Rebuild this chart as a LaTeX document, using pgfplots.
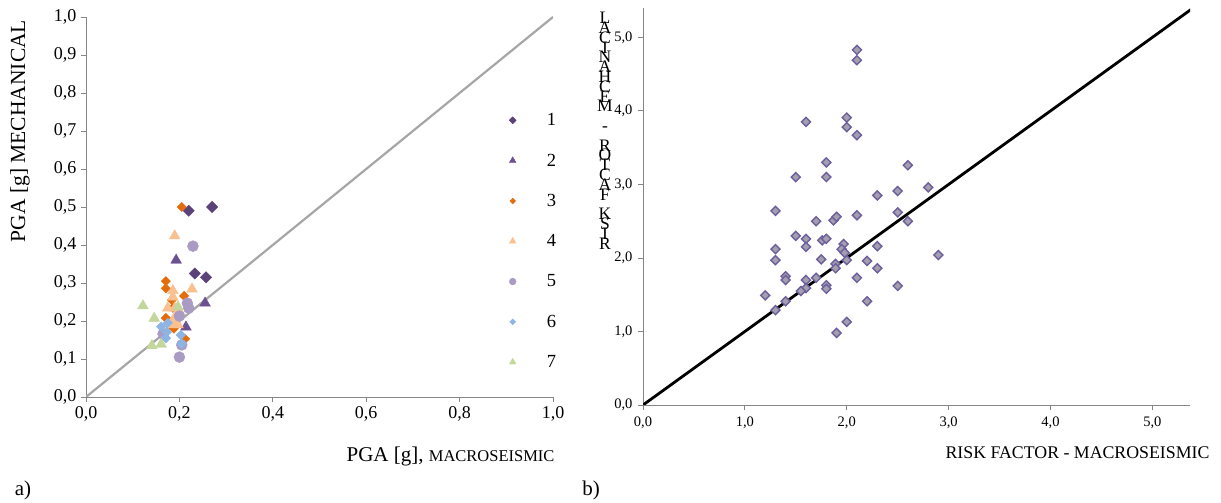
\documentclass[border=0pt]{standalone}
\usepackage{fontspec}
\setmainfont{Liberation Serif}
\usepackage{pgfplots}
\pgfplotsset{compat=1.18}
\newcommand\tightlines{\fontsize{17.5}{9.8}\selectfont\lineskiplimit=-100pt\relax\lineskip=0pt\relax}
\definecolor{sOne}{HTML}{5B4278}
\definecolor{sTwo}{HTML}{6B5190}
\definecolor{sThree}{HTML}{E46C0A}
\definecolor{sFour}{HTML}{FAC090}
\definecolor{sFive}{HTML}{A99BC4}
\definecolor{sSix}{HTML}{8EB4E3}
\definecolor{sSeven}{HTML}{C3D69B}
\definecolor{axgray}{HTML}{868686}
\definecolor{diagray}{HTML}{A6A6A6}
\definecolor{rEdge}{HTML}{6E5E9E}
\definecolor{rFill}{HTML}{A29FAE}
\pgfplotsset{
  commonax/.style={
    scale only axis,
    axis x line=bottom, axis y line=left,
    axis line style={-, draw=axgray, line width=0.9pt},
    tick style={draw=axgray, line width=0.9pt},
    tick align=outside,
    major tick length=5pt,
    /pgf/number format/.cd, use comma, fixed, fixed zerofill, precision=1, assume math mode=true,
    /pgfplots/.cd,
  },
}
\begin{document}
\begin{tikzpicture}[x=1pt,y=1pt]
\useasboundingbox (0,0) rectangle (1221,503);
% ---------------- left panel ----------------
\begin{axis}[commonax,
  at={(86pt,106pt)}, anchor=south west,
  width=467pt, height=380pt,
  xmin=0, xmax=1, ymin=0, ymax=1,
  xtick={0,0.2,0.4,0.6,0.8,1.0},
  ytick={0,0.1,0.2,0.3,0.4,0.5,0.6,0.7,0.8,0.9,1.0},
  tick label style={font=\fontsize{18}{18}\selectfont},
  xticklabel style={yshift=-1pt},
  yticklabel style={xshift=-1pt},
  legend style={at={(axis cs:0.9,0.752)}, anchor=north west, draw=none, fill=none,
    font=\fontsize{18.5}{18.5}\selectfont, row sep=22.6pt, inner sep=0pt},
  legend cell align=left,
  legend image code/.code={\draw[#1, every mark/.append style={scale=0.62}] plot coordinates {(6pt,0pt)}; \path (0pt,0pt) (38pt,0pt);},
]
\addplot[diagray, line width=2.2pt, forget plot] coordinates {(0,0) (1,1)};
\addplot[only marks, mark=square*, mark size=4pt, mark options={rotate=45, draw=sOne, fill=sOne}]
  coordinates {(0.22,0.49) (0.27,0.50) (0.233,0.325) (0.257,0.315)};
\addlegendentry{1}
\addplot[only marks, mark=triangle*, mark size=6.2pt, mark options={draw=sTwo, fill=sTwo}]
  coordinates {(0.193,0.36) (0.255,0.247) (0.214,0.184)};
\addlegendentry{2}
\addplot[only marks, mark=square*, mark size=3.3pt, mark options={rotate=45, draw=sThree, fill=sThree}]
  coordinates {(0.205,0.50) (0.171,0.305) (0.171,0.286) (0.21,0.266) (0.184,0.255) (0.186,0.235) (0.171,0.208) (0.188,0.18) (0.212,0.153)};
\addlegendentry{3}
\addplot[only marks, mark=triangle*, mark size=6.2pt, mark options={draw=sFour, fill=sFour}]
  coordinates {(0.19,0.424) (0.227,0.284) (0.186,0.28) (0.186,0.263) (0.175,0.234) (0.19,0.234) (0.2,0.225) (0.193,0.195) (0.184,0.19) (0.197,0.19) (0.19,0.21)};
\addlegendentry{4}
\addplot[only marks, mark=*, mark size=5.5pt, mark options={draw=sFive, fill=sFive}]
  coordinates {(0.229,0.397) (0.217,0.247) (0.22,0.234) (0.2,0.213) (0.165,0.166) (0.205,0.137) (0.2,0.105)};
\addlegendentry{5}
\addplot[only marks, mark=square*, mark size=3.4pt, mark options={rotate=45, draw=sSix, fill=sSix}]
  coordinates {(0.161,0.185) (0.175,0.195) (0.173,0.171) (0.171,0.155) (0.203,0.163) (0.205,0.14)};
\addlegendentry{6}
\addplot[only marks, mark=triangle*, mark size=6.2pt, mark options={draw=sSeven, fill=sSeven}]
  coordinates {(0.122,0.24) (0.197,0.237) (0.146,0.207) (0.141,0.135) (0.161,0.139)};
\addlegendentry{7}
\end{axis}
% ---------------- right panel ----------------
\begin{axis}[commonax,
  at={(643pt,98pt)}, anchor=south west,
  width=547pt, height=397pt,
  xmin=0, xmax=5.37, ymin=0, ymax=5.4,
  xtick={0,1,2,3,4,5}, ytick={0,1,2,3,4,5},
  tick label style={font=\fontsize{14.5}{14.5}\selectfont},
  xticklabel style={yshift=-3pt},
  yticklabel style={xshift=-2pt},
]
\addplot[black, line width=2.8pt] coordinates {(0,0) (5.4,5.4)};
\addplot[only marks, mark=square*, mark size=3.2pt, mark options={rotate=45, draw=rEdge, fill=rFill, line width=1.4pt}]
  coordinates {
  (2.1,4.83) (2.1,4.69) (1.6,3.85) (2.0,3.91) (2.0,3.78) (2.1,3.67) (1.8,3.30) (2.6,3.26)
  (1.5,3.10) (1.8,3.10) (2.8,2.96) (2.3,2.85) (2.5,2.91) (1.3,2.64) (2.1,2.58) (2.5,2.62)
  (2.6,2.50) (1.7,2.50) (1.87,2.51) (1.9,2.56) (1.5,2.30) (1.6,2.26) (1.76,2.24) (1.8,2.26)
  (1.6,2.15) (1.3,2.12) (1.97,2.19) (1.95,2.12) (1.98,2.07) (2.3,2.16) (2.9,2.04) (1.3,1.97)
  (1.75,1.98) (2.0,1.97) (2.2,1.96) (2.3,1.86) (1.89,1.92) (1.89,1.86) (1.4,1.75) (1.4,1.70)
  (1.6,1.70) (1.7,1.73) (2.1,1.73) (1.8,1.63) (1.8,1.58) (1.6,1.59) (1.55,1.55) (2.5,1.62)
  (1.2,1.49) (1.4,1.41) (2.2,1.41) (1.3,1.29) (2.0,1.13) (1.9,0.98)};
\end{axis}
% ---------------- labels ----------------
\node[rotate=90, font=\fontsize{21.5}{21.5}\selectfont] at (20,372) {PGA [g] MECHANICAL};
\node[anchor=east, font=\fontsize{21}{21}\selectfont] at (558,47) {PGA [g], {\fontsize{16.5}{16}\selectfont MACROSEISMIC}};
\node[anchor=east, font=\fontsize{17.8}{17.8}\selectfont] at (1213,50) {RISK FACTOR - MACROSEISMIC};
\node[anchor=north, align=center, font=\tightlines, inner sep=0pt] at (605,491)
  {L\\A\\C\\I\\N\\A\\H\\C\\E\\M\\~\\-\\~\\R\\O\\T\\C\\A\\F\\~\\K\\S\\I\\R};
\node[font=\fontsize{21}{21}\selectfont] at (23,13) {a)};
\node[font=\fontsize{21}{21}\selectfont] at (591,13) {b)};
\end{tikzpicture}
\end{document}
